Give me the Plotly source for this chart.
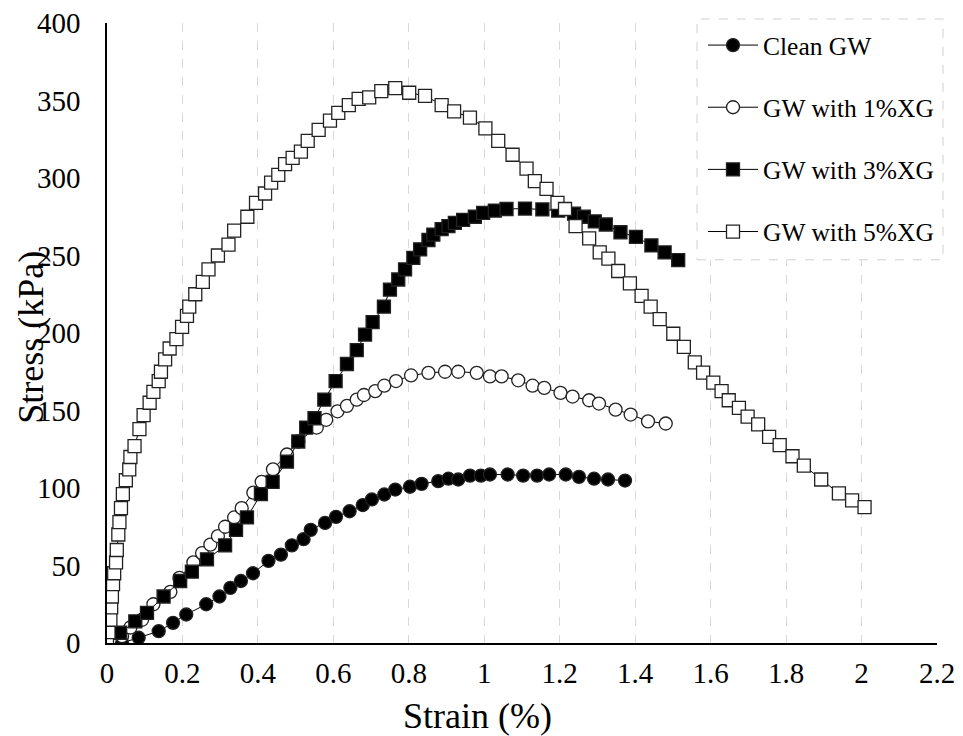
import plotly.graph_objects as go

# ---- data ----
clean_x = [0.04, 0.084, 0.137, 0.175, 0.210, 0.263, 0.298, 0.327, 0.355, 0.387, 0.428, 0.461, 0.490, 0.521,
           0.540, 0.578, 0.607, 0.643, 0.678, 0.702, 0.735, 0.764, 0.803, 0.834, 0.878, 0.905, 0.931, 0.962,
           0.991, 1.015, 1.062, 1.103, 1.140, 1.172, 1.216, 1.251, 1.291, 1.328, 1.373]
clean_y = [0, 3.4, 7.6, 13, 18.4, 25, 30, 35.6, 40, 45, 53, 57, 63, 67,
           73, 77.5, 81.4, 85, 89, 92.6, 95.8, 99, 100.8, 102.7, 104.4, 106, 105.5, 108,
           108, 108.7, 108.7, 108, 108, 108.7, 108.7, 107.2, 106, 105.5, 104.8]

xg1_x = [0.04, 0.062, 0.093, 0.123, 0.168, 0.192, 0.229, 0.252, 0.274, 0.294, 0.313, 0.337, 0.357, 0.388,
         0.410, 0.440, 0.477, 0.507, 0.556, 0.581, 0.611, 0.636, 0.662, 0.681, 0.711, 0.735, 0.766, 0.806,
         0.852, 0.896, 0.931, 0.980, 1.015, 1.046, 1.090, 1.128, 1.159, 1.202, 1.234, 1.278, 1.304, 1.348,
         1.388, 1.434, 1.481]
xg1_y = [4.4, 10, 15, 25, 33, 42, 52, 58, 63.5, 69, 75, 81, 87, 97,
         104, 112, 121.6, 130, 139, 144, 149.5, 153, 157, 160, 162.5, 166, 169, 172.6,
         174.3, 175, 175, 174.3, 172, 172, 169.5, 166, 164.6, 161.4, 159, 156.6, 154.5, 150.6,
         147.4, 143, 141.6]

xg3_x = [0.035, 0.075, 0.106, 0.150, 0.194, 0.225, 0.265, 0.313, 0.342, 0.371, 0.408, 0.439, 0.477, 0.507,
         0.528, 0.550, 0.576, 0.606, 0.636, 0.662, 0.684, 0.704, 0.734, 0.750, 0.772, 0.790, 0.812, 0.830,
         0.852, 0.865, 0.887, 0.905, 0.922, 0.944, 0.975, 0.997, 1.028, 1.059, 1.108, 1.154, 1.196, 1.238,
         1.264, 1.293, 1.322, 1.361, 1.402, 1.443, 1.478, 1.514]
xg3_y = [6.6, 14, 19.5, 30, 40, 46, 54, 63, 73, 81, 96, 104, 117, 130,
         139, 145, 157, 169, 180, 189, 199, 207, 217, 228, 234.5, 241, 248.5, 254,
         260, 263.5, 267, 269, 271, 273, 275, 277.5, 279, 280, 280.3, 279.7, 279, 277,
         275, 272, 270, 265, 262, 256.5, 252, 247]

xg5_x = [0, 0.004, 0.009, 0.011, 0.013, 0.016, 0.019, 0.024, 0.026, 0.030, 0.033, 0.037, 0.042, 0.050,
         0.059, 0.062, 0.073, 0.086, 0.097, 0.113, 0.123, 0.137, 0.143, 0.154, 0.166, 0.184, 0.199, 0.212,
         0.218, 0.234, 0.254, 0.269, 0.294, 0.322, 0.337, 0.372, 0.395, 0.419, 0.435, 0.454, 0.472, 0.492,
         0.514, 0.532, 0.561, 0.591, 0.613, 0.641, 0.667, 0.695, 0.727, 0.764, 0.801, 0.843, 0.887, 0.920,
         0.962, 1.003, 1.037, 1.075, 1.112, 1.134, 1.165, 1.194, 1.214, 1.242, 1.278, 1.306, 1.329, 1.355,
         1.386, 1.417, 1.441, 1.465, 1.501, 1.529, 1.558, 1.580, 1.607, 1.629, 1.648, 1.675, 1.698, 1.726,
         1.755, 1.783, 1.817, 1.847, 1.893, 1.940, 1.975, 2.008]
xg5_y = [0, 7, 15, 23, 30, 38, 45, 52, 60, 70, 78, 87, 96, 105,
         112, 120, 127, 138, 147, 155, 162, 169, 175, 183, 190, 196, 204, 211,
         217, 225, 233, 241, 250, 257, 266, 275, 284, 290, 297, 302, 309, 313,
         317, 324, 331, 337, 342, 347, 351, 352, 356, 358, 355, 353, 347, 343,
         339, 332, 324, 315, 306, 298, 293, 284, 280, 269, 261, 252, 248, 240,
         232, 224, 217, 209, 199.5, 191, 181, 174.5, 168, 162.5, 156.6, 151.7, 146, 141,
         133, 127.6, 120.5, 114.5, 105.5, 96.5, 92, 87.6]

names = ["Clean GW", "GW with 1%XG", "GW with 3%XG", "GW with 5%XG"]
x_ticks = [0, 0.2, 0.4, 0.6, 0.8, 1, 1.2, 1.4, 1.6, 1.8, 2, 2.2]
x_tick_labels = ["0", "0.2", "0.4", "0.6", "0.8", "1", "1.2", "1.4", "1.6", "1.8", "2", "2.2"]
y_ticks = [0, 50, 100, 150, 200, 250, 300, 350, 400]
y_tick_labels = ["0", "50", "100", "150", "200", "250", "300", "350", "400"]

FONT = "Liberation Serif"

series = [
    (clean_x, clean_y, "circle", "black"),
    (xg1_x, xg1_y, "circle", "white"),
    (xg3_x, xg3_y, "square", "black"),
    (xg5_x, xg5_y, "square", "white"),
]

fig = go.Figure()
for i, (xs, ys, sym, fill) in enumerate(series):
    fig.add_trace(go.Scatter(
        x=xs, y=ys, mode="lines+markers", name=names[i], legendgroup=names[i],
        line=dict(color="black", width=1),
        marker=dict(symbol=sym, size=13, color=fill, line=dict(color="#222222", width=1.3)),
    ))

W, H = 963, 736
L, R, T, B = 107, 26, 23, 92.5
pw, ph = W - L - R, H - T - B

def px(xp):
    return (xp - L) / pw

def py(yp):
    return (H - B - yp) / ph

fig.update_layout(
    width=W, height=H,
    margin=dict(l=L, r=R, t=T, b=B, autoexpand=False),
    paper_bgcolor="white", plot_bgcolor="white",
    font=dict(family=FONT, color="black", size=29),
    showlegend=True,
    legend=dict(
        x=px(703), y=py(22), xanchor="left", yanchor="top",
        bgcolor="rgba(0,0,0,0)", borderwidth=0,
        font=dict(family=FONT, size=25.5, color="black"),
        traceorder="grouped", tracegroupgap=26, itemwidth=50,
    ),
    xaxis=dict(
        range=[0, 2.2], tickmode="array", tickvals=x_ticks, ticktext=x_tick_labels,
        showline=True, linecolor="black", linewidth=1.5,
        showgrid=True, gridcolor="#d9d9d9", griddash="dash", gridwidth=1,
        zeroline=False, ticks="", ticklabelstandoff=3,
        tickfont=dict(family=FONT, size=29, color="black"),
    ),
    yaxis=dict(
        range=[0, 400], tickmode="array", tickvals=y_ticks, ticktext=y_tick_labels,
        showline=True, linecolor="black", linewidth=1.5,
        showgrid=False, zeroline=False, ticks="", ticklabelstandoff=19,
        tickfont=dict(family=FONT, size=29, color="black"),
    ),
    shapes=[dict(
        type="rect", xref="paper", yref="paper",
        x0=px(697), x1=px(943), y0=py(260), y1=py(19),
        line=dict(color="#d0d0d0", width=1, dash="dash"), fillcolor="white", layer="above",
    )],
    annotations=[
        dict(text="Strain (%)", xref="paper", yref="paper", x=px(477), y=py(717),
             showarrow=False, xanchor="center", yanchor="middle", font=dict(family=FONT, size=36)),
        dict(text="Stress (kPa)", xref="paper", yref="paper", x=px(31), y=py(338), textangle=-90,
             showarrow=False, xanchor="center", yanchor="middle", font=dict(family=FONT, size=36)),
    ],
)

fig.write_html("out.html")
